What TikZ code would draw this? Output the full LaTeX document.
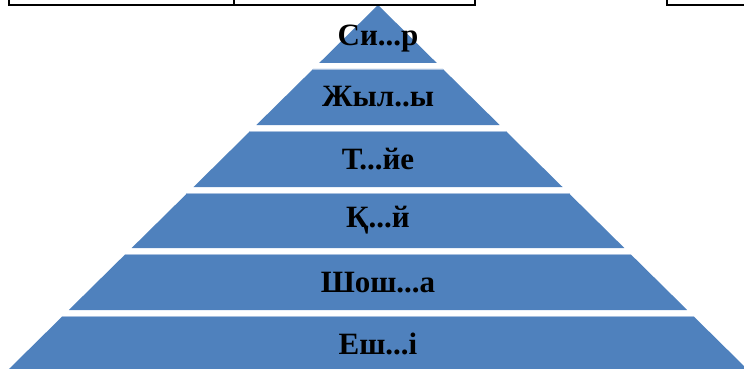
\documentclass[tikz,border=0pt]{standalone}
\usepackage{fontspec}
\setmainfont{Liberation Serif}
\definecolor{pyrblue}{HTML}{4F81BD}
\definecolor{pyredge}{HTML}{A7BFDE}
\begin{document}
\begin{tikzpicture}[x=1pt,y=-1pt,
  bandlabel/.style={font=\bfseries\fontsize{31}{33}\selectfont,text=black,inner sep=0pt,anchor=center},
  tableline/.style={draw=black,line width=2pt}]
\useasboundingbox (0,0) rectangle (744,369);
\pgfmathsetmacro{\apx}{378}
\pgfmathsetmacro{\apy}{5}
\pgfmathsetmacro{\sl}{368/363}
% top triangle
\fill[pyrblue] (\apx,\apy) -- ({\apx-(63-\apy)*\sl},63) -- ({\apx+(63-\apy)*\sl},63) -- cycle;
% trapezoid bands
\foreach \t/\b in {69/125, 131/187, 193/248, 254/310, 316/370}{
  \fill[pyrblue] ({\apx-(\t-\apy)*\sl},\t) -- ({\apx+(\t-\apy)*\sl},\t) -- ({\apx+(\b-\apy)*\sl},\b) -- ({\apx-(\b-\apy)*\sl},\b) -- cycle;
  \draw[pyredge,line width=0.8pt] ({\apx-(\t-\apy)*\sl-1},\t+0.4) -- ({\apx+(\t-\apy)*\sl+1},\t+0.4);
}
\node[bandlabel] (l1) at (\apx,39) {Си...р};
\node[bandlabel] (l2) at (\apx,97) {Жыл..ы};
\node[bandlabel] (l3) at (\apx,159) {Т...йе};
\node[bandlabel] (l4) at (\apx,220) {Қ...й};
\node[bandlabel] (l5) at (\apx,283) {Шош...а};
\node[bandlabel] (l6) at (\apx,344) {Еш...і};
% table remnants at top
\coordinate (ta) at (9,-1);
\coordinate (tb) at (9,5);
\coordinate (tc) at (475,5);
\coordinate (td) at (475,-1);
\coordinate (te) at (234,-1);
\coordinate (tf) at (234,5);
\coordinate (tg) at (667,-1);
\coordinate (th) at (667,5);
\coordinate (ti) at (745,5);
\draw[tableline] (ta) -- (tb) -- (tc) -- (td);
\draw[tableline] (te) -- (tf);
\draw[tableline] (tg) -- (th) -- (ti);
\end{tikzpicture}
\end{document}
